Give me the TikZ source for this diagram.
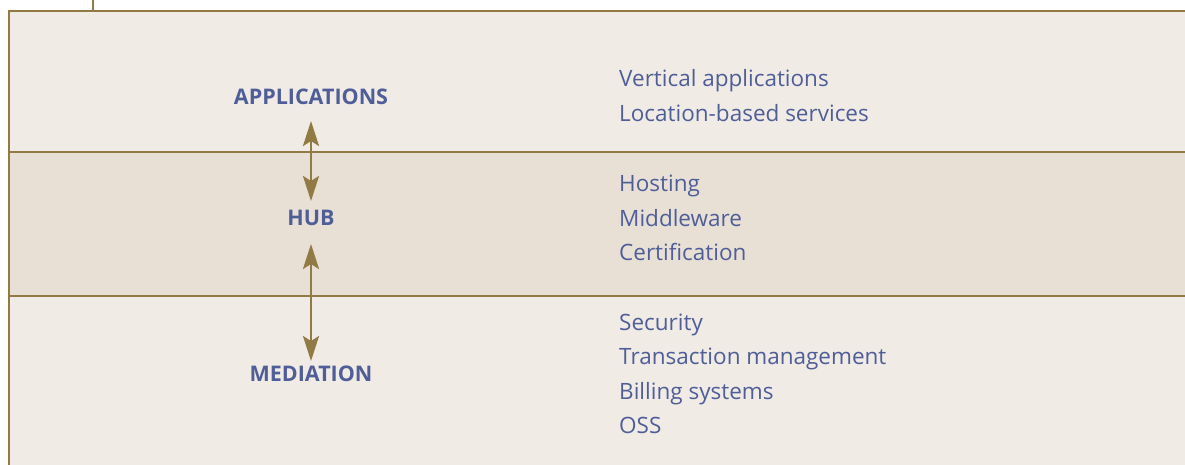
\documentclass[tikz,border=0pt]{standalone}
\usepackage{fontspec}
\setmainfont{Open Sans}
\usetikzlibrary{arrows.meta}
\definecolor{panel}{HTML}{F0EBE4}
\definecolor{band}{HTML}{E8E0D4}
\definecolor{rule}{HTML}{927A44}
\definecolor{ink}{HTML}{4F5E99}
\begin{document}
\begin{tikzpicture}[x=1pt,y=-1pt,
  layer/.style={font=\bfseries\fontsize{21.5}{24}\selectfont, text=ink, inner sep=0pt, anchor=base},
  item/.style={font=\fontsize{22.5}{26}\selectfont, text=ink, anchor=base west, inner sep=0pt},
  link/.style={draw=rule, line width=2.6pt, {Stealth[length=25pt,width=16pt,inset=5pt]}-{Stealth[length=25pt,width=16pt,inset=5pt]}}]
  \useasboundingbox (0,0) rectangle (1185,465);
  % panels
  \fill[panel] (9,11) rectangle (1185,465);
  \fill[band] (9,152) rectangle (1185,296);
  \draw[rule, line width=2.2pt] (9,152) -- (1185,152);
  \draw[rule, line width=2.2pt] (9,296) -- (1185,296);
  % frame: top and left edges, with the stub above
  \draw[rule, line width=2.6pt] (9,465) -- (9,11) -- (1185,11);
  \draw[rule, line width=2.4pt] (93,0) -- (93,11);
  % layer names
  \node[layer] (app) at (311,105) {APPLICATIONS};
  \node[layer] (hub) at (311,225) {HUB};
  \node[layer] (med) at (311,381) {MEDIATION};
  % links between layers
  \coordinate (a1) at (311,121);
  \coordinate (a2) at (311,201);
  \coordinate (b1) at (311,244);
  \coordinate (b2) at (311,361);
  \draw[link] (a1) -- (a2);
  \draw[link] (b1) -- (b2);
  % items
  \node[item] (v1) at (619,87) {Vertical applications};
  \node[item] (v2) at (619,122) {Location-based services};
  \node[item] (h1) at (619,191) {Hosting};
  \node[item] (h2) at (619,226) {Middleware};
  \node[item] (h3) at (619,260) {Certification};
  \node[item] (m1) at (619,330) {Security};
  \node[item] (m2) at (619,364) {Transaction management};
  \node[item] (m3) at (619,399) {Billing systems};
  \node[item] (m4) at (619,433) {OSS};
\end{tikzpicture}
\end{document}
